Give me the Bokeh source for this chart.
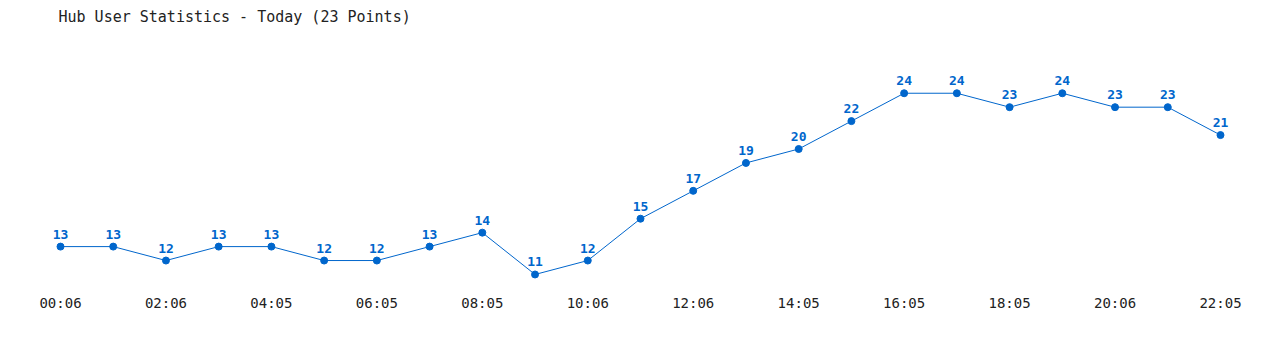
from bokeh.plotting import figure
from bokeh.models import ColumnDataSource, FixedTicker, Range1d
from bokeh.core.properties import value
from bokeh.embed import file_html
from bokeh.resources import INLINE

users = [13, 13, 12, 13, 13, 12, 12, 13, 14, 11, 12, 15, 17, 19, 20, 22, 24, 24, 23, 24, 23, 23, 21]
tick_labels = ["00:06", "02:06", "04:05", "06:05", "08:05", "10:06",
               "12:06", "14:05", "16:05", "18:05", "20:06", "22:05"]
title_text = "Hub User Statistics - Today (23 Points)"

BLUE = "#0066CC"
idx = list(range(len(users)))
src = ColumnDataSource(dict(x=idx, y=users, lbl=[str(v) for v in users]))

p = figure(width=1280, height=350, output_backend="svg", toolbar_location=None,
           x_range=Range1d(-1.138, 23.138), y_range=Range1d(9.851, 28.5),
           min_border_left=0, min_border_right=0, min_border_bottom=60, min_border_top=0)
p.title.text = title_text
p.title.text_font = "DejaVu Sans Mono"
p.title.text_font_size = "15px"
p.title.text_font_style = "normal"
p.title.text_color = "#222222"
p.title.offset = 58
p.outline_line_color = None
p.background_fill_color = "white"
p.border_fill_color = "white"
p.xgrid.visible = False
p.ygrid.visible = False
p.yaxis.visible = False

p.line("x", "y", source=src, color=BLUE, line_width=1)
p.scatter("x", "y", source=src, size=7, color=BLUE)
p.text("x", "y", text="lbl", source=src, text_font=value("DejaVu Sans Mono"),
       text_font_size="13px", text_font_style="bold", text_color=BLUE,
       text_align="center", text_baseline="bottom", y_offset=-8)

ticks = list(range(0, len(users), 2))
p.xaxis.ticker = FixedTicker(ticks=ticks)
p.xaxis.major_label_overrides = {t: l for t, l in zip(ticks, tick_labels)}
p.xaxis.axis_line_color = None
p.xaxis.major_tick_line_color = None
p.xaxis.minor_tick_line_color = None
p.xaxis.major_tick_out = 0
p.xaxis.major_label_standoff = 4
p.xaxis.major_label_text_font = "DejaVu Sans Mono"
p.xaxis.major_label_text_font_size = "14px"
p.xaxis.major_label_text_color = "#222222"

open("out.html", "w").write(file_html(p, INLINE))
